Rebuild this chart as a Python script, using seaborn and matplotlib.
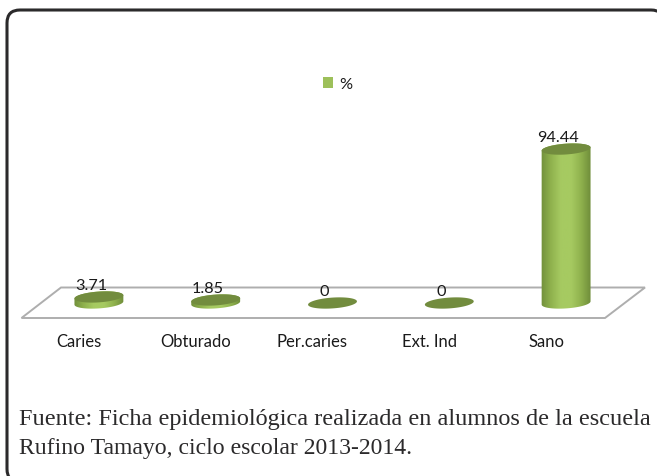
import numpy as np
import pandas as pd
import matplotlib
matplotlib.use("Agg")
import matplotlib.pyplot as plt
import seaborn as sns
from matplotlib.patches import FancyBboxPatch, Patch, PathPatch, Polygon
from matplotlib.path import Path
from matplotlib.transforms import IdentityTransform, ScaledTranslation
from matplotlib.colors import LinearSegmentedColormap

categories = ["Caries", "Obturado", "Per.caries", "Ext. Ind", "Sano"]
values = [3.71, 1.85, 0, 0, 94.44]
labels = ["3.71", "1.85", "0", "0", "94.44"]
series_name = "%"
source_lines = [
    "Fuente: Ficha epidemiológica realizada en alumnos de la escuela",
    "Rufino Tamayo, ciclo escolar 2013-2014.",
]

W, H = 657, 477
sns.set_theme(style="white")
plt.rcParams["font.family"] = ["Lato", "DejaVu Sans"]

df = pd.DataFrame({"cat": categories, "val": values})


def fx(px):
    return px / W


def fy(py):
    return 1 - py / H


fig = plt.figure(figsize=(W / 100, H / 100), dpi=100, facecolor="white")

# frame and floor sit behind the chart, in image pixels
bg = fig.add_axes([0, 0, 1, 1], zorder=0)
bg.set_xlim(0, W)
bg.set_ylim(H, 0)
bg.axis("off")
bg.add_patch(FancyBboxPatch((18, 22), 635, 450, boxstyle="round,pad=11,rounding_size=13",
                            fc="white", ec="#2b2a2b", lw=2.2))
floor = [(21.5, 319), (61, 288.5), (645, 288.5), (605, 319)]
bg.add_patch(Polygon(floor, closed=True, fc="white", ec="#aeaeae", lw=1.4))

# value 0 at y=304 px, 100 at y=141 px
ax = fig.add_axes([fx(40.5), fy(304), (624.5 - 40.5) / W, 163 / H], zorder=1)
ax.patch.set_alpha(0)
sns.barplot(data=df, x="cat", y="val", color="#9dc05a", width=49 / 116.8, saturation=1, ax=ax)
ax.set_xlim(-0.5, 4.5)
ax.set_ylim(0, 100)
ax.set_xlabel("")
ax.set_ylabel("")
ax.set_yticks([])
sns.despine(ax=ax, left=True, bottom=True)
ax.tick_params(axis="x", length=0, pad=0)
ax.set_xticks(range(len(categories)))
ax.set_xticklabels(categories, fontsize=12, color="#1a1a1a")
shift = ScaledTranslation(-20 / 100, -30 / 100, fig.dpi_scale_trans)
for t in ax.get_xticklabels():
    t.set_transform(t.get_transform() + shift)

cmap = LinearSegmentedColormap.from_list("cyl", ["#6f8d3a", "#8fb14d", "#a6ca61", "#a6ca61", "#8fb14d", "#6c8a38"])
grad = np.linspace(0, 1, 64).reshape(1, -1)
tilt = np.radians(4)
a, b = 24.5, 5.4


def ellipse(cx, cy, t):
    x = cx + a * np.cos(t) * np.cos(tilt) - b * np.sin(t) * np.sin(tilt)
    y = cy + a * np.cos(t) * np.sin(tilt) + b * np.sin(t) * np.cos(tilt)
    return np.column_stack([x, y])


fig.canvas.draw()
for bar, val, lab in zip(ax.patches, values, labels):
    x0, x1 = bar.get_x(), bar.get_x() + bar.get_width()
    xc = (x0 + x1) / 2
    cx, base = ax.transData.transform((xc, 0))
    top = ax.transData.transform((xc, val))[1]
    t = np.linspace(0, 2 * np.pi, 80)
    bar.set_visible(False)
    if val > 0:
        # side of the cylinder: lower half of both ellipses
        low = ellipse(cx, base, np.linspace(np.pi, 2 * np.pi, 40))
        up = ellipse(cx, top, np.linspace(0, np.pi, 40))
        side = PathPatch(Path(np.vstack([low, up, low[:1]])), transform=IdentityTransform(), fc="none", ec="none")
        ax.add_patch(side)
        im = ax.imshow(grad, extent=(x0 - 0.01, x1 + 0.01, -5, val + 5), aspect="auto", cmap=cmap, zorder=3)
        im.set_clip_box(fig.bbox)
        im.set_clip_path(side)
        ax.set_xlim(-0.5, 4.5)
        ax.set_ylim(0, 100)
    ax.add_patch(Polygon(ellipse(cx, top, t), closed=True, transform=IdentityTransform(),
                         fc="#728c3e", ec="none", zorder=4, clip_on=False))
    ax.text(xc, val, lab, fontsize=11.7, color="#1a1a1a", ha="center", va="center", zorder=5,
            transform=ax.transData + ScaledTranslation(-8 / 100, 12 / 100, fig.dpi_scale_trans))

ax.legend(handles=[Patch(fc="#9dc05a", ec="none", label=series_name)], loc="center",
          bbox_to_anchor=(fx(338), fy(85)), bbox_transform=fig.transFigure, frameon=False,
          fontsize=11.7, handlelength=0.62, handleheight=0.62, handletextpad=0.4, labelcolor="#1a1a1a")

for line, py, size in zip(source_lines, [420, 449], [17.5, 17.1]):
    bg.text(19, py, line, family="Liberation Serif", fontsize=size, color="#2b2a2b", ha="left", va="center")

fig.savefig("out.png", dpi=100)
